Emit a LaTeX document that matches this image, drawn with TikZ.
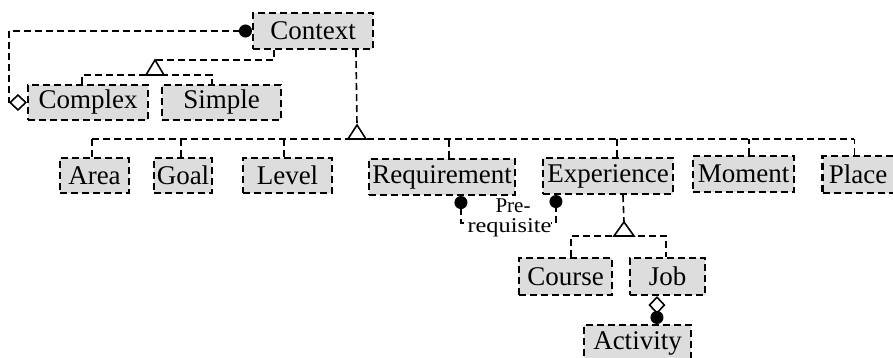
\documentclass[tikz,border=0pt]{standalone}
\usepackage{fontspec}
\setmainfont{Liberation Serif}
\usetikzlibrary{arrows.meta,calc}
\definecolor{boxgray}{RGB}{221,221,221}
\tikzset{
  dotend/.tip={Circle[length=13pt,width=13pt]},
  aggend/.tip={Diamond[open,length=18pt,width=17pt]}
}

\begin{document}
\begin{tikzpicture}[x=1pt,y=-1pt,
  cls/.style={draw, fill=boxgray, line width=2.1pt, dash pattern=on 7pt off 4pt,
    inner sep=0pt, font=\fontsize{27}{30}\selectfont},
  link/.style={line width=1.6pt, dash pattern=on 7pt off 4pt},
  gen/.style={draw, line width=1.6pt, fill=white, solid, line join=miter},
  lbl/.style={inner sep=0pt, font=\fontsize{21}{23}\selectfont}
]
\useasboundingbox (0,0) rectangle (893,358);

% classes
\node[cls, minimum width=120pt, minimum height=36pt] (context) at (313,31) {Context};
\node[cls, minimum width=120pt, minimum height=35pt] (complex) at (88,102.5) {Complex};
\node[cls, minimum width=119pt, minimum height=35pt] (simple) at (221.5,102.5) {Simple};

\node[cls, minimum width=69pt, minimum height=35pt] (area) at (94.5,175.5) {Area};
\node[cls, minimum width=58pt, minimum height=35pt] (goal) at (183,175.5) {Goal};
\node[cls, minimum width=89pt, minimum height=35pt] (level) at (287.5,175.5) {Level};
\node[cls, minimum width=146pt, minimum height=36pt] (requirement) at (442,177) {Requirement};
\node[cls, minimum width=130pt, minimum height=36pt] (experience) at (608,176) {Experience};
\node[cls, minimum width=101pt, minimum height=36pt] (moment) at (743.5,174) {Moment};
\node[cls, minimum width=77pt, minimum height=37pt] (place) at (861,174.5) {\hspace*{-6pt}Place};

\node[cls, minimum width=93pt, minimum height=37pt] (course) at (565.5,276.5) {Course};
\node[cls, minimum width=75pt, minimum height=37pt] (job) at (667.5,276.5) {Job};
\node[cls, minimum width=107pt, minimum height=37pt] (activity) at (637.5,343.5) {Activity};

% Context is made of Complex parts
\draw[link, {dotend}-{aggend}] (context.west) -| ([xshift=-18pt]complex.west) -- (complex.west);

% Complex / Simple specialise Context
\coordinate (g1) at (155,60);
\draw[link] ([xshift=22pt]context.south west) |- (g1);
\draw[link] ([xshift=55pt]complex.north west) |- ([yshift=-15pt]g1) -| ([xshift=51pt]simple.north west);
\draw[gen] (g1) -- ++(9,15) -- ++(-18,0) -- cycle;

% the seven kinds of Context
\coordinate (g2) at (357,125);
\coordinate (bar2) at (0,139);
\draw[link] ([xshift=104pt]context.south west) -- (g2);
\foreach \n/\dx in {area/33, goal/28, level/42, requirement/81, experience/75, moment/57, place/33} {
  \path ([xshift=\dx pt]\n.north west) coordinate (d-\n);
  \draw[link] (d-\n) -- (d-\n |- bar2);
}
\draw[link] (d-area |- bar2) -- (d-place |- bar2);
\draw[gen] (g2) -- ++(9,14) -- ++(-18,0) -- cycle;

% Pre-requisite association
\draw[link, {dotend}-{dotend}] ([xshift=93pt]requirement.south west) -- ++(0,27)
  -| ([xshift=14pt]experience.south west);
\node[lbl] (prelabel) at (513,205.5) {Pre-};
\node[lbl, fill=white] (reqlabel) at (509.5,227.5) {\scalebox{1.16}[1]{requisite}};

% Course / Job specialise Experience
\coordinate (g3) at (624,222);
\draw[link] ([xshift=81pt]experience.south west) -- (g3);
\draw[link] ([xshift=53pt]course.north west) |- ([yshift=-14pt]g3) -| ([xshift=37pt]job.north west);
\draw[gen] (g3) -- ++(10,14) -- ++(-20,0) -- cycle;

% Job is made of Activities
\draw[link, {aggend}-{dotend}] ([xshift=28pt]job.south west) -- ([xshift=74pt]activity.north west);
\end{tikzpicture}
\end{document}
